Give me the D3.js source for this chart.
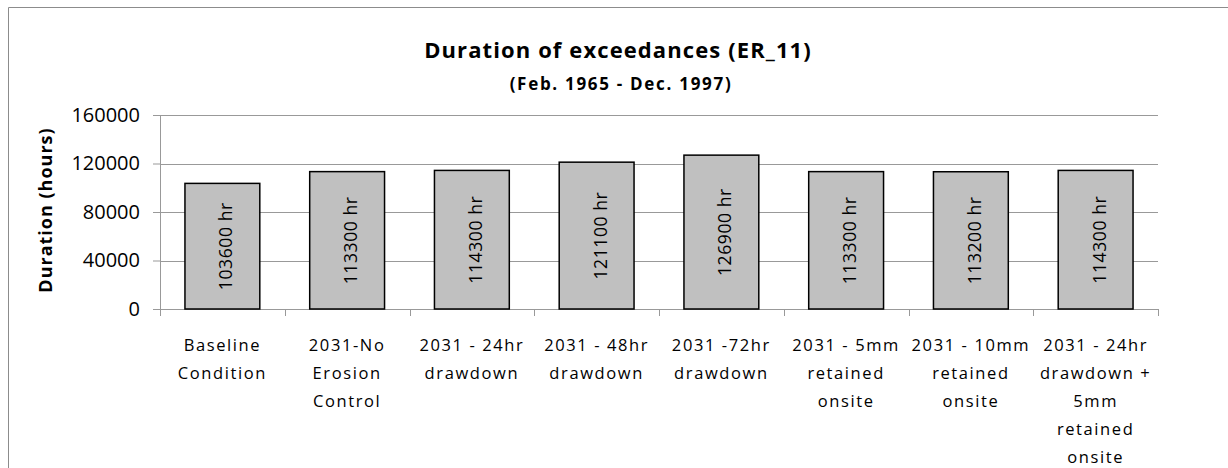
<!DOCTYPE html>
<html>
<head>
<meta charset="utf-8">
<script src="https://cdn.jsdelivr.net/npm/d3@7"></script>
<style>
  body { margin: 0; background: #fff; }
  svg { display: block; font-family: "Open Sans", Lato, sans-serif; }
</style>
</head>
<body>
<svg id="chart" width="1228" height="468"></svg>
<script>
// chart data
const categories = [
    ["Baseline", "Condition"],
    ["2031-No", "Erosion", "Control"],
    ["2031 - 24hr", "drawdown"],
    ["2031 - 48hr", "drawdown"],
    ["2031 -72hr", "drawdown"],
    ["2031 - 5mm", "retained", "onsite"],
    ["2031 - 10mm", "retained", "onsite"],
    ["2031 - 24hr", "drawdown +", "5mm", "retained", "onsite"]
];
const durations = [103600, 113300, 114300, 121100, 126900, 113300, 113200, 114300];
const yTicks = [0, 40000, 80000, 120000, 160000];

const svg = d3.select("#chart");
const margin = { top: 115, right: 70, bottom: 159, left: 160 };
const width = 1228 - margin.left - margin.right;
const height = 468 - margin.top - margin.bottom;
const font = "'Open Sans', Lato, sans-serif";

// outer frame
svg.append("path")
    .attr("d", "M8.5,468 V7.5 H1228")
    .attr("fill", "none")
    .attr("stroke", "#8c8c8c")
    .attr("stroke-width", 1);

const g = svg.append("g").attr("transform", `translate(${margin.left},${margin.top})`);

const x = d3.scaleBand()
    .domain(d3.range(categories.length))
    .range([0, width])
    .paddingInner(0.4)
    .paddingOuter(0.2);

const y = d3.scaleLinear()
    .domain([0, 160000])
    .range([height, 0]);

// gridlines
g.append("g")
    .selectAll("line")
    .data(yTicks.slice(1))
    .enter().append("line")
    .attr("x1", 0)
    .attr("x2", width)
    .attr("y1", d => Math.round(y(d)) + 0.5)
    .attr("y2", d => Math.round(y(d)) + 0.5)
    .attr("stroke", "#999");

// y axis
const yAxis = g.append("g")
    .call(d3.axisLeft(y).tickValues(yTicks).tickFormat(d3.format("d")).tickSize(7).tickPadding(13));
yAxis.select(".domain").attr("stroke", "#999");
yAxis.selectAll(".tick line").attr("stroke", "#999");
yAxis.selectAll(".tick text")
    .attr("font-size", 20)
    .attr("fill", "#000")
    .attr("font-family", font);

// x axis with ticks at category boundaries
const step = x.step();
g.append("line")
    .attr("x1", 0).attr("x2", width)
    .attr("y1", height + 0.5).attr("y2", height + 0.5)
    .attr("stroke", "#999");
g.append("g")
    .selectAll("line")
    .data(d3.range(categories.length + 1))
    .enter().append("line")
    .attr("x1", i => Math.round(i * step) + 0.5)
    .attr("x2", i => Math.round(i * step) + 0.5)
    .attr("y1", height)
    .attr("y2", height + 7)
    .attr("stroke", "#999");

// bars
const bar = g.selectAll(".bar")
    .data(durations)
    .enter().append("g")
    .attr("class", "bar");

bar.append("rect")
    .attr("x", (d, i) => x(i))
    .attr("y", d => y(d))
    .attr("width", x.bandwidth())
    .attr("height", d => height - y(d))
    .attr("fill", "#c0c0c0")
    .attr("stroke", "#000")
    .attr("stroke-width", 1.5);

bar.append("text")
    .attr("transform", (d, i) => `translate(${x(i) + x.bandwidth() / 2 + 10},${(y(d) + height) / 2}) rotate(-90)`)
    .attr("text-anchor", "middle")
    .attr("font-size", 17.5)
    .attr("letter-spacing", 0.6)
    .text(d => `${d} hr`);

// category labels
const labels = g.append("g")
    .selectAll("text")
    .data(categories)
    .enter().append("text")
    .attr("text-anchor", "middle")
    .attr("font-size", 16.5)
    .attr("letter-spacing", 1.6)
    .attr("transform", (d, i) => `translate(${x(i) + x.bandwidth() / 2},${height + 42})`);
labels.selectAll("tspan")
    .data(d => d)
    .enter().append("tspan")
    .attr("x", 0)
    .attr("dy", (d, i) => i === 0 ? 0 : 28)
    .text(d => d);

// titles
svg.append("text")
    .attr("x", 618)
    .attr("y", 58)
    .attr("text-anchor", "middle")
    .attr("font-size", 22)
    .attr("font-weight", "bold")
    .attr("letter-spacing", 1.1)
    .text("Duration of exceedances (ER_11)");

svg.append("text")
    .attr("x", 621)
    .attr("y", 90)
    .attr("text-anchor", "middle")
    .attr("font-size", 17)
    .attr("font-weight", "bold")
    .attr("letter-spacing", 1.7)
    .text("(Feb. 1965 - Dec. 1997)");

svg.append("text")
    .attr("transform", `translate(52,${margin.top + height / 2 - 2}) rotate(-90)`)
    .attr("text-anchor", "middle")
    .attr("font-size", 18)
    .attr("font-weight", "bold")
    .attr("letter-spacing", 1)
    .text("Duration (hours)");
</script>
</body>
</html>
